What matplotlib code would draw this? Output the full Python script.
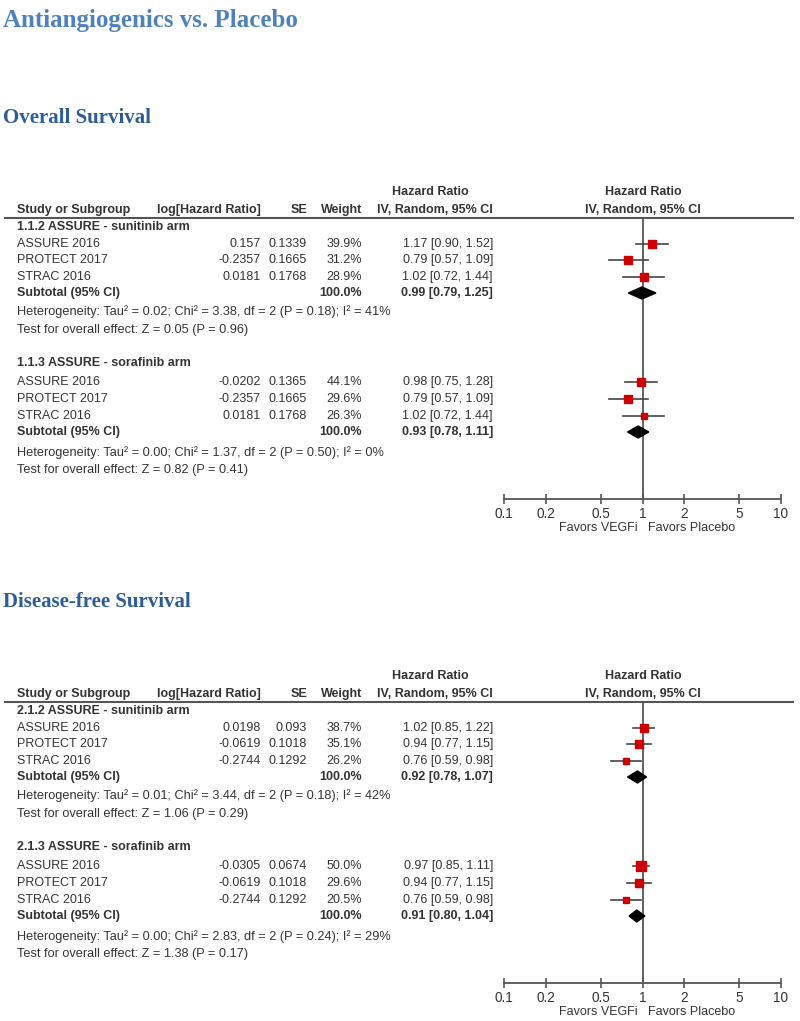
import matplotlib
matplotlib.use("Agg")
import matplotlib.pyplot as plt
import numpy as np

# ---- data ----
studies = ["ASSURE 2016", "PROTECT 2017", "STRAC 2016"]

os_groups = ["1.1.2 ASSURE - sunitinib arm", "1.1.3 ASSURE - sorafinib arm"]
os_loghr = [["0.157", "-0.2357", "0.0181"], ["-0.0202", "-0.2357", "0.0181"]]
os_se = [["0.1339", "0.1665", "0.1768"], ["0.1365", "0.1665", "0.1768"]]
os_weight = [[39.9, 31.2, 28.9], [44.1, 29.6, 26.3]]
os_hr = [[1.17, 0.79, 1.02], [0.98, 0.79, 1.02]]
os_lo = [[0.90, 0.57, 0.72], [0.75, 0.57, 0.72]]
os_hi = [[1.52, 1.09, 1.44], [1.28, 1.09, 1.44]]
os_sub_hr = [0.99, 0.93]
os_sub_lo = [0.79, 0.78]
os_sub_hi = [1.25, 1.11]
os_het = ["Heterogeneity: Tau² = 0.02; Chi² = 3.38, df = 2 (P = 0.18); I² = 41%",
          "Heterogeneity: Tau² = 0.00; Chi² = 1.37, df = 2 (P = 0.50); I² = 0%"]
os_test = ["Test for overall effect: Z = 0.05 (P = 0.96)",
           "Test for overall effect: Z = 0.82 (P = 0.41)"]

dfs_groups = ["2.1.2 ASSURE - sunitinib arm", "2.1.3 ASSURE - sorafinib arm"]
dfs_loghr = [["0.0198", "-0.0619", "-0.2744"], ["-0.0305", "-0.0619", "-0.2744"]]
dfs_se = [["0.093", "0.1018", "0.1292"], ["0.0674", "0.1018", "0.1292"]]
dfs_weight = [[38.7, 35.1, 26.2], [50.0, 29.6, 20.5]]
dfs_hr = [[1.02, 0.94, 0.76], [0.97, 0.94, 0.76]]
dfs_lo = [[0.85, 0.77, 0.59], [0.85, 0.77, 0.59]]
dfs_hi = [[1.22, 1.15, 0.98], [1.11, 1.15, 0.98]]
dfs_sub_hr = [0.92, 0.91]
dfs_sub_lo = [0.78, 0.80]
dfs_sub_hi = [1.07, 1.04]
dfs_het = ["Heterogeneity: Tau² = 0.01; Chi² = 3.44, df = 2 (P = 0.18); I² = 42%",
           "Heterogeneity: Tau² = 0.00; Chi² = 2.83, df = 2 (P = 0.24); I² = 29%"]
dfs_test = ["Test for overall effect: Z = 1.06 (P = 0.29)",
            "Test for overall effect: Z = 1.38 (P = 0.17)"]

ticks = [0.1, 0.2, 0.5, 1, 2, 5, 10]
tick_labels = ["0.1", "0.2", "0.5", "1", "2", "5", "10"]

W, H = 800, 1021
TXT = "#333333"
GRID = "#555555"
SANS = "Liberation Sans"

fig = plt.figure(figsize=(W / 100, H / 100), dpi=100)
bg = fig.add_axes([0, 0, 1, 1])
bg.set_xlim(0, W)
bg.set_ylim(H, 0)
bg.axis("off")


def t(x, y, s, ha="left", bold=False, size=9):
    bg.text(x, y, s, ha=ha, va="center", fontsize=size, color=TXT,
            family=SANS, fontweight="bold" if bold else "normal")


bg.text(3, 21, "Antiangiogenics vs. Placebo", ha="left", va="center",
        fontsize=18, family="Liberation Serif", fontweight="bold", color="#4f81bd")

# column positions
X_NAME, X_LOG, X_SE, X_W, X_CI = 17, 261, 307, 362, 493
FX0, FX1 = 504, 781


def panel(base, title, groups, loghr, se, weight, hr, lo, hi, shr, slo, shi, het, test):
    bg.text(3, base - 99, title, ha="left", va="center", fontsize=15,
            family="Liberation Serif", fontweight="bold", color="#2e5c96")
    # headers
    t(430, base - 25, "Hazard Ratio", ha="center", bold=True)
    t(643, base - 25, "Hazard Ratio", ha="center", bold=True)
    t(X_NAME, base - 7, "Study or Subgroup", bold=True)
    t(X_LOG, base - 7, "log[Hazard Ratio]", ha="right", bold=True)
    t(X_SE, base - 7, "SE", ha="right", bold=True)
    t(X_W, base - 7, "Weight", ha="right", bold=True)
    t(X_CI, base - 7, "IV, Random, 95% CI", ha="right", bold=True)
    t(643, base - 7, "IV, Random, 95% CI", ha="center", bold=True)
    bg.plot([5, 793], [base + 1, base + 1], color=GRID, lw=1.5)

    axis_y = base + 282
    fa = fig.add_axes([FX0 / W, 1 - axis_y / H, (FX1 - FX0) / W, (axis_y - base - 1) / H])
    fa.set_xscale("log")
    fa.set_xlim(0.1, 10)
    fa.set_ylim(axis_y, base + 1)
    fa.patch.set_alpha(0)
    for s in ["left", "right", "top"]:
        fa.spines[s].set_visible(False)
    fa.spines["bottom"].set_color(GRID)
    fa.spines["bottom"].set_linewidth(1.3)
    fa.set_yticks([])
    fa.set_xticks(ticks)
    fa.set_xticklabels(tick_labels)
    fa.minorticks_off()
    fa.tick_params(axis="x", direction="inout", length=7, width=1.2, color=GRID,
                   labelsize=9.8, labelcolor=TXT, pad=2)
    for lab in fa.get_xticklabels():
        lab.set_family(SANS)
    fa.axvline(1, color=GRID, lw=1.3)

    offs_group = [10, 146]
    offs_rows = [[27, 43, 60], [165, 182, 199]]
    offs_sub = [76, 215]
    offs_het = [95, 236]
    offs_test = [113, 253]
    for g in range(2):
        t(X_NAME, base + offs_group[g], groups[g], bold=True)
        for i in range(3):
            y = base + offs_rows[g][i]
            t(X_NAME, y, studies[i])
            t(X_LOG, y, loghr[g][i], ha="right")
            t(X_SE, y, se[g][i], ha="right")
            t(X_W, y, f"{weight[g][i]:.1f}%", ha="right")
            t(X_CI, y, f"{hr[g][i]:.2f} [{lo[g][i]:.2f}, {hi[g][i]:.2f}]", ha="right")
            fa.plot([lo[g][i], hi[g][i]], [y, y], color="#444444", lw=1.2, zorder=3)
            fa.plot([hr[g][i]], [y], marker="s", color="#cc0000", mec="#cc0000",
                    ms=0.95 * np.sqrt(weight[g][i]), zorder=4)
        y = base + offs_sub[g]
        t(X_NAME, y, "Subtotal (95% CI)", bold=True)
        t(X_W, y, "100.0%", ha="right", bold=True)
        t(X_CI, y, f"{shr[g]:.2f} [{slo[g]:.2f}, {shi[g]:.2f}]", ha="right", bold=True)
        fa.fill([slo[g], shr[g], shi[g], shr[g]], [y, y - 6, y, y + 6],
                color="black", zorder=4)
        t(X_NAME, base + offs_het[g], het[g], size=9.2)
        t(X_NAME, base + offs_test[g], test[g], size=9.2)

    bg.text(638, axis_y + 29, "Favors VEGFi", ha="right", va="center",
            fontsize=9, color=TXT, family=SANS)
    bg.text(648, axis_y + 29, "Favors Placebo", ha="left", va="center",
            fontsize=9, color=TXT, family=SANS)


panel(217, "Overall Survival", os_groups, os_loghr, os_se, os_weight, os_hr, os_lo, os_hi,
      os_sub_hr, os_sub_lo, os_sub_hi, os_het, os_test)
panel(701, "Disease-free Survival", dfs_groups, dfs_loghr, dfs_se, dfs_weight, dfs_hr,
      dfs_lo, dfs_hi, dfs_sub_hr, dfs_sub_lo, dfs_sub_hi, dfs_het, dfs_test)

fig.savefig("out.png", dpi=100)
